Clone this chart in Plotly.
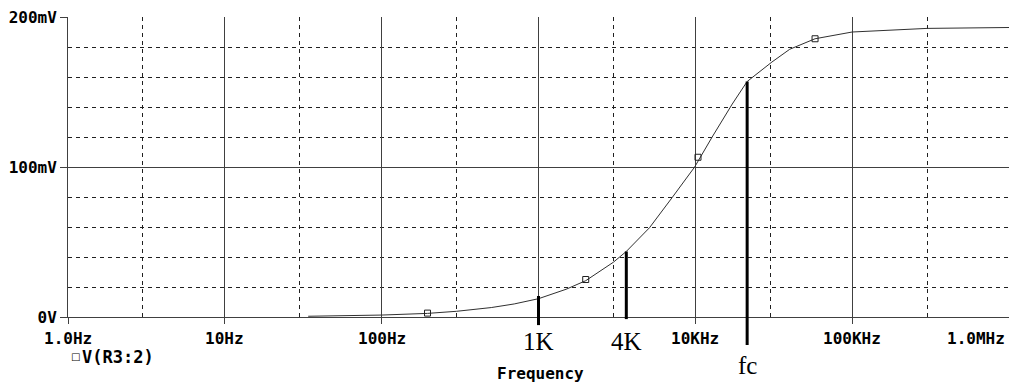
import math
import plotly.graph_objects as go

# ---- data ----
freq_hz = [34, 60, 100, 196, 300, 500, 700, 1000, 1500, 2000, 3000, 3630, 5100,
           7100, 9900, 12800, 17200, 21400, 30800, 40000, 58000, 100000, 300000, 1000000]
v_mv = [0.5, 0.8, 1.3, 2.4, 3.8, 6.3, 8.7, 12.2, 18.5, 24.2, 36.5, 43.7, 59.5,
        79.5, 100.0, 120.0, 142.0, 157.0, 170.0, 178.5, 185.5, 190.0, 192.4, 193.0]

marker_hz = [196, 2000, 10400, 58000]
marker_mv = [2.6, 25.0, 106.5, 185.5]

x_tick_vals = [1, 10, 100, 1000, 10000, 100000, 1000000]
x_tick_text = ["1.0Hz", "10Hz", "100Hz", "", "10KHz", "100KHz", "1.0MHz"]
x_minor_vals = [3, 30, 300, 3000, 30000, 300000]

y_tick_vals = [0, 100, 200]
y_tick_text = ["0V", "100mV", "200mV"]
y_minor_vals = [20, 40, 60, 80, 120, 140, 160, 180]

cursor_hz = [1000, 3630, 21400]
cursor_mv = [14.0, 43.7, 157.0]
cursor_text = ["1K", "4K", "fc"]
cursor_bottom = [-0.027, -0.007, -0.093]
cursor_label_y = [-0.08, -0.08, -0.163]

legend_name = "V(R3:2)"

PS_FONT = dict(family="DejaVu Sans Mono", size=16, color="black")
GRID = "#404040"

fig = go.Figure()
fig.add_trace(go.Scatter(x=freq_hz, y=v_mv, mode="lines",
                         line=dict(color="#303030", width=1),
                         showlegend=False, cliponaxis=False))
fig.add_trace(go.Scatter(x=marker_hz, y=marker_mv, mode="markers",
                         marker=dict(symbol="square-open", size=6, color="#202020",
                                     line=dict(width=1)),
                         showlegend=False))

fig.update_layout(
    width=1009, height=383,
    margin=dict(l=68, r=0, t=17, b=66, autoexpand=False),
    paper_bgcolor="white", plot_bgcolor="white",
    showlegend=False,
    xaxis=dict(type="log", range=[0, 6], showgrid=True, gridcolor=GRID, gridwidth=1,
               tickvals=x_tick_vals, showticklabels=False, automargin=False,
               ticks="outside", ticklen=6, tickcolor=GRID, tickwidth=1,
               showline=True, linecolor=GRID, linewidth=1, zeroline=False,
               minor=dict(tickvals=x_minor_vals, showgrid=True, gridcolor="#202020",
                          griddash="4px,4px", gridwidth=1, ticks="")),
    yaxis=dict(range=[0, 200], showgrid=True, gridcolor=GRID, gridwidth=1,
               tickvals=y_tick_vals, ticktext=["<b>%s</b>" % t for t in y_tick_text],
               tickfont=PS_FONT, automargin=False,
               ticks="outside", ticklen=7, tickcolor=GRID, tickwidth=1,
               showline=True, linecolor=GRID, linewidth=1, zeroline=False,
               minor=dict(tickvals=y_minor_vals, showgrid=True, gridcolor="#202020",
                          griddash="4px,4px", gridwidth=1, ticks="")),
)

# x tick labels (last one kept inside the window, as in the reference)
for v, t in zip(x_tick_vals, x_tick_text):
    if not t:
        continue
    last = (v == x_tick_vals[-1])
    fig.add_annotation(x=math.log10(v), y=-0.07, xref="x", yref="paper",
                       text="<b>%s</b>" % t, showarrow=False,
                       xanchor="right" if last else "center", yanchor="middle",
                       xshift=-2 if last else 0,
                       font=PS_FONT)

# axis title
fig.add_annotation(x=0.502, y=-0.187, xref="paper", yref="paper",
                   text="<b>Frequency</b>", showarrow=False,
                   xanchor="center", yanchor="middle", font=PS_FONT)

# legend entry
fig.add_annotation(x=0.0, y=-0.133, xref="paper", yref="paper",
                   text="\u25a1", showarrow=False,
                   xanchor="left", yanchor="middle", xshift=1,
                   font=dict(family="DejaVu Sans", size=10, color="black"))
fig.add_annotation(x=0.0, y=-0.133, xref="paper", yref="paper",
                   text="<b>%s</b>" % legend_name, showarrow=False,
                   xanchor="left", yanchor="middle", xshift=12,
                   font=dict(family="DejaVu Sans Mono", size=17, color="black"))

# cursor lines and their serif labels
for hz, mv, txt, yb, yl in zip(cursor_hz, cursor_mv, cursor_text, cursor_bottom, cursor_label_y):
    fig.add_shape(type="line", xref="x", yref="paper",
                  x0=hz, x1=hz, y0=yb, y1=mv / 200.0,
                  line=dict(color="black", width=3), layer="above")
    fig.add_annotation(x=math.log10(hz), y=yl, xref="x", yref="paper",
                       text=txt, showarrow=False, xanchor="center", yanchor="middle",
                       font=dict(family="Liberation Serif", size=25, color="black"))

fig.write_html("out.html", config={"displayModeBar": False},
               post_script="document.body.style.margin='0';document.body.style.overflow='hidden';")
